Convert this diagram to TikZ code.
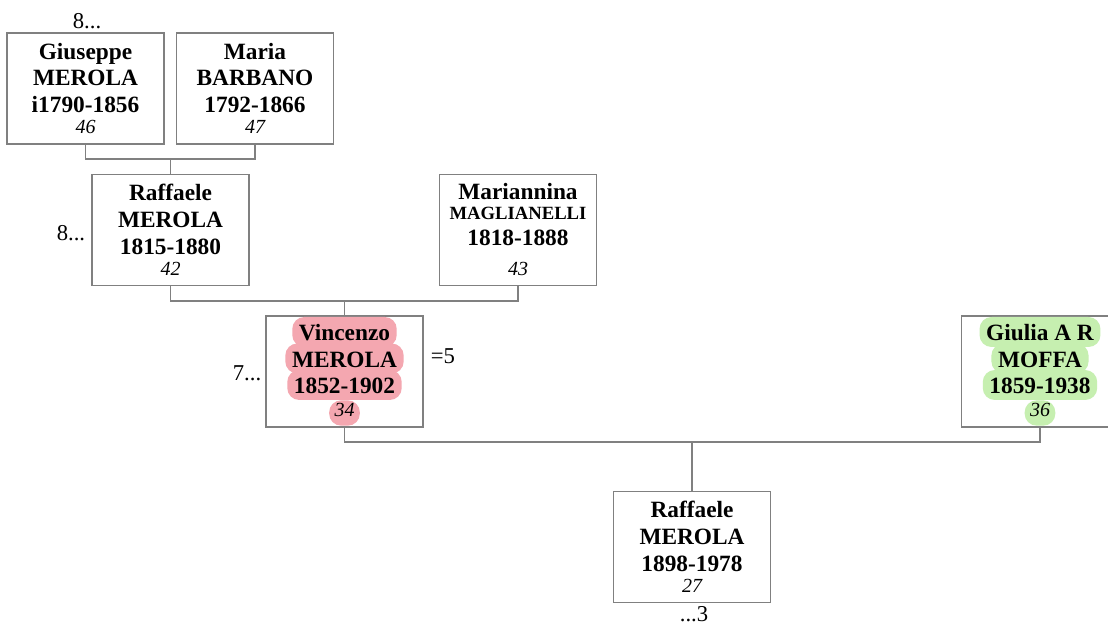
\documentclass[tikz,border=0pt]{standalone}
\usepackage{fontspec}
\setmainfont{Liberation Serif}

\definecolor{linegray}{HTML}{808080}
\definecolor{hlpink}{HTML}{F4A7B0}
\definecolor{hlgreen}{HTML}{C6EFB0}

\newcommand{\namefont}{\fontsize{17.5}{20}\selectfont\bfseries}
\newcommand{\numfont}{\fontsize{15}{16}\selectfont\mdseries\itshape}
\newcommand{\notefont}{\fontsize{17}{20}\selectfont}

\begin{document}
\begin{tikzpicture}[x=0.75pt, y=-0.75pt,
  person/.style={draw=linegray, line width=1pt, fill=white, minimum width=117.75pt,
    minimum height=83.25pt, inner sep=0pt, align=center, font=\namefont},
  link/.style={draw=linegray, line width=1pt},
  hlline/.style={rounded corners=9pt, inner xsep=5pt, inner ysep=1.5pt, text height=16.5pt,
    text depth=3pt, font=\namefont, anchor=base},
  hlnum/.style={hlline, inner xsep=4pt, text height=11pt, text depth=5pt, font=\numfont},
  note/.style={font=\notefont, inner sep=0pt}]

  \useasboundingbox (0,0) rectangle (1108,627);

  % --- 1. persone ---
  \node[person] (giuseppe) at (85.5,88.5) {Giuseppe\\MEROLA\\i1790-1856\\[-4pt]{\numfont 46}};
  \node[person] (maria) at (255,88.5) {Maria\\BARBANO\\1792-1866\\[-4pt]{\numfont 47}};
  \node[person] (raffaele) at (170.5,230) {Raffaele\\MEROLA\\1815-1880\\[-4pt]{\numfont 42}};
  \node[person] (mariannina) at (518,230)
    {Mariannina\\[-5pt]{\fontsize{14}{16}\selectfont MAGLIANELLI}\\[-0.5pt]1818-1888\\[2.5pt]{\numfont 43}};
  \node[person] (vincenzo) at (344.5,371.5) {};
  \node[person] (giulia) at (1040,371.5) {};
  \node[person] (raffaelejr) at (692,547) {Raffaele\\MEROLA\\1898-1978\\[-4pt]{\numfont 27}};

  % --- 2. evidenziazioni (Vincenzo, Giulia) ---
  \node[hlline, fill=hlpink] (vincenzo-1) at (344.5,341) {Vincenzo};
  \node[hlline, fill=hlpink] (vincenzo-2) at (344.5,367.5) {MEROLA};
  \node[hlline, fill=hlpink] (vincenzo-3) at (344.5,394) {1852-1902};
  \node[hlnum, fill=hlpink] (vincenzo-4) at (344.5,417) {34};

  \node[hlline, fill=hlgreen] (giulia-1) at (1040,341) {Giulia A R};
  \node[hlline, fill=hlgreen] (giulia-2) at (1040,367.5) {MOFFA};
  \node[hlline, fill=hlgreen] (giulia-3) at (1040,394) {1859-1938};
  \node[hlnum, fill=hlgreen] (giulia-4) at (1040,417) {36};

  % --- 3. legami ---
  \coordinate (bar1) at (0,159);
  \coordinate (bar2) at (0,301);
  \coordinate (bar3) at (0,442);
  \draw[link] (giuseppe.south) -- (giuseppe.south |- bar1) -| (maria.south);
  \draw[link] (raffaele.north) -- (raffaele.north |- bar1);
  \draw[link] (raffaele.south) -- (raffaele.south |- bar2) -| (mariannina.south);
  \draw[link] (vincenzo.north) -- (vincenzo.north |- bar2);
  \draw[link] (vincenzo.south) -- (vincenzo.south |- bar3) -| (giulia.south);
  \draw[link] (raffaelejr.north) -- (raffaelejr.north |- bar3);

  % --- 4. rimandi ---
  \node[note] (up-giuseppe) at (87,21) {8...};
  \node[note] (up-raffaele) at (71,233) {8...};
  \node[note] (up-vincenzo) at (247,373) {7...};
  \node[note] (wed-vincenzo) at (443,356) {=5};
  \node[note] (down-raffaele) at (694,614) {...3};

\end{tikzpicture}
\end{document}
